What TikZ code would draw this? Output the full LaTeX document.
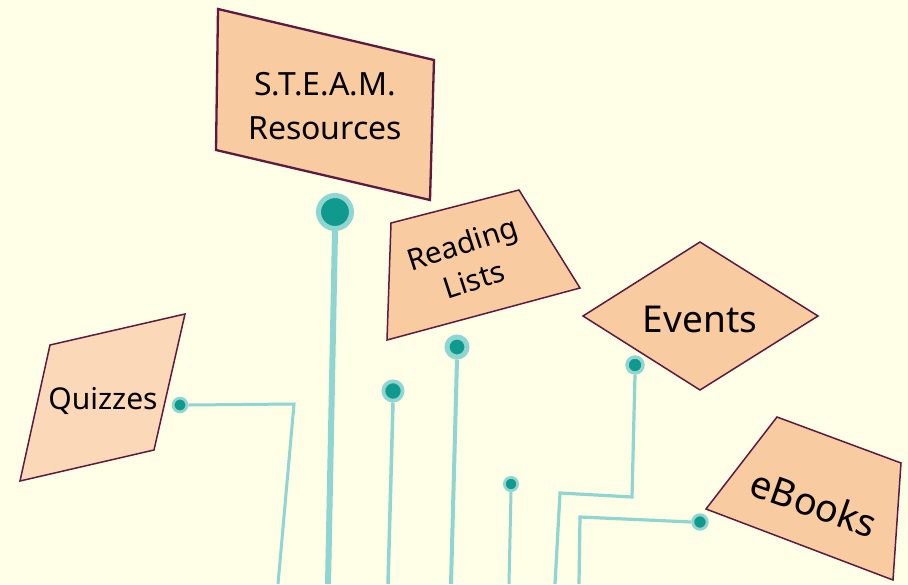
\documentclass[tikz,border=0pt]{standalone}
\usepackage{fontspec}
\setmainfont{Noto Sans}
\definecolor{paper}{HTML}{FFFEE6}
\definecolor{peach}{HTML}{F8CBA1}
\definecolor{peachlight}{HTML}{FAD8B8}
\definecolor{plum}{HTML}{5C1A42}
\definecolor{teal}{HTML}{0F9A8D}
\definecolor{tealpale}{HTML}{8FD5D2}
\tikzset{
  card/.style={fill=peach, draw=plum, line width=1.5pt, line join=miter},
  label/.style={text=black, inner sep=0pt},
  pin/.style={circle, fill=teal, draw=tealpale, inner sep=0pt},
  wire/.style={draw=tealpale},
}
\begin{document}
\begin{tikzpicture}[x=1pt, y=-1pt]
  \useasboundingbox (0,0) rectangle (908,584);
  \fill[paper] (0,0) rectangle (908,584);
  % Cards
  \filldraw[card, line width=2.3pt] (218,9) -- (434,60) -- (430,200) -- (216,150) -- cycle;
  \filldraw[card] (391,223) -- (519,190) -- (580,288) -- (387,340) -- cycle;
  \filldraw[card] (700,242) -- (818,316) -- (700,390) -- (583,316) -- cycle;
  \filldraw[card, fill=peachlight] (50,345) -- (185,314) -- (154,450) -- (20,481) -- cycle;
  \filldraw[card] (777,417) -- (901,463) -- (893,580) -- (706,509) -- cycle;
  % Labels
  \node[label, align=center, font=\fontsize{32}{44}\selectfont] (steam) at (325,106) {S.T.E.A.M.\\Resources};
  \node[label, align=center, rotate=18, font=\fontsize{29.5}{38}\selectfont] (reading) at (468,261) {Reading\\Lists};
  \node[label, anchor=base, font=\fontsize{37}{44}\selectfont] (events) at (700,332) {Events};
  \node[label, anchor=base, font=\fontsize{30}{36}\selectfont] (quizzes) at (103,409) {Quizzes};
  \node[label, rotate=-19.5, font=\fontsize{38}{44}\selectfont] (ebooks) at (814,503) {eBooks};
  % Pins
  \node[pin, minimum size=33pt, line width=5pt] (psteam) at (335,212) {};
  \node[pin, minimum size=20pt, line width=5pt] (preading) at (457,347) {};
  \node[pin, minimum size=19.3pt, line width=3.7pt] (pmid) at (393,391) {};
  \node[pin, minimum size=13.3pt, line width=2.7pt] (psmall) at (511,484) {};
  \node[pin, minimum size=16pt, line width=3.4pt] (pevents) at (635,365) {};
  \node[pin, minimum size=13.8pt, line width=2.8pt] (pquizzes) at (180,405) {};
  \node[pin, minimum size=14.5pt, line width=2.9pt] (pebooks) at (700,522) {};
  % Wire ends
  \coordinate (esteam) at (328,584);
  \coordinate (ereading) at (451,584);
  \coordinate (emid) at (388,584);
  \coordinate (esmall) at (509,584);
  \coordinate (eevents) at (555,584);
  \coordinate (equizzes) at (278,584);
  \coordinate (eebooks) at (579,584);
  % Wires
  \draw[wire, line width=6pt] (psteam.south) -- (esteam);
  \draw[wire, line width=4pt] (preading.south) -- (ereading);
  \draw[wire, line width=3.5pt] (pmid.south) -- (emid);
  \draw[wire, line width=3pt] (psmall.south) -- (esmall);
  \draw[wire, line width=3.2pt] (pevents.south) -- (632,497) -- (560,493) -- (eevents);
  \draw[wire, line width=3pt] (pquizzes.east) -- (294,404) -- (equizzes);
  \draw[wire, line width=3.2pt] (pebooks.west) -- (580,517) -- (eebooks);
\end{tikzpicture}
\end{document}
